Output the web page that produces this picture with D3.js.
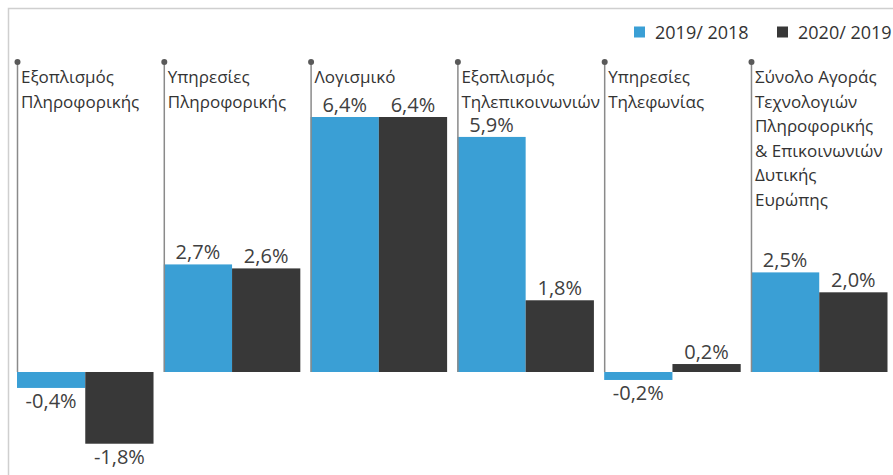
<!DOCTYPE html>
<html>
<head>
<meta charset="utf-8">
<script src="https://cdn.jsdelivr.net/npm/d3@7"></script>
<style>
  html, body { margin: 0; padding: 0; background: #fff; }
  svg { display: block; font-family: "Open Sans", "Noto Sans", sans-serif; }
</style>
</head>
<body>
<svg id="chart" width="893" height="475"></svg>
<script>
const categories = [
  ["Εξοπλισμός", "Πληροφορικής"],
  ["Υπηρεσίες", "Πληροφορικής"],
  ["Λογισμικό"],
  ["Εξοπλισμός", "Τηλεπικοινωνιών"],
  ["Υπηρεσίες", "Τηλεφωνίας"],
  ["Σύνολο Αγοράς", "Τεχνολογιών", "Πληροφορικής", "& Επικοινωνιών", "Δυτικής", "Ευρώπης"]
];
const seriesNames = ["2019/ 2018", "2020/ 2019"];
const values2019 = [-0.4, 2.7, 6.4, 5.9, -0.2, 2.5];
const values2020 = [-1.8, 2.6, 6.4, 1.8, 0.2, 2.0];
const colors = ["#3a9fd5", "#383838"];

const svg = d3.select("#chart");
const W = 893, H = 475;

// frame
svg.append("path")
  .attr("d", `M8.5,${H} L8.5,8.5 L${W},8.5`)
  .attr("fill", "none").attr("stroke", "#cfcfcf").attr("stroke-width", 1.5);

const keys = categories.map((c, i) => "c" + i);
const x0 = d3.scaleBand().domain(keys).range([17, 887.5]).paddingInner(0.07).paddingOuter(0);
const x1 = d3.scaleBand().domain(seriesNames).range([0, x0.bandwidth()]).padding(0);
const y = d3.scaleLinear().domain([0, 6.4]).range([372, 117]);

const data = categories.map((c, i) => ({
  key: keys[i], label: c,
  vals: [values2019[i], values2020[i]]
}));

const g = svg.append("g");
const groups = g.selectAll("g.grp").data(data).join("g")
  .attr("class", "grp")
  .attr("transform", d => `translate(${x0(d.key)},0)`);

groups.each(function(d) {
  const gg = d3.select(this);
  d.vals.forEach((v, j) => {
    const bx = x1(seriesNames[j]);
    const top = y(Math.max(0, v)), bot = y(Math.min(0, v));
    gg.append("rect")
      .attr("x", bx).attr("y", top)
      .attr("width", x1.bandwidth()).attr("height", bot - top)
      .attr("fill", colors[j]);
    const lbl = (v < 0 ? "-" : "") + d3.format(".1f")(Math.abs(v)).replace(".", ",") + "%";
    gg.append("text")
      .attr("x", bx + x1.bandwidth() / 2)
      .attr("y", v >= 0 ? top - 5 : bot + 20)
      .attr("text-anchor", "middle")
      .attr("font-size", 20).attr("fill", "#404040")
      .text(lbl);
  });
  // leader line and dot
  gg.append("line")
    .attr("x1", 0.5).attr("x2", 0.5)
    .attr("y1", 62).attr("y2", y(0))
    .attr("stroke", "#8a8a8a").attr("stroke-width", 1.5);
  gg.append("circle").attr("cx", 0.5).attr("cy", 62).attr("r", 3).attr("fill", "#595959");
  const t = gg.append("text")
    .attr("x", 4).attr("y", 83)
    .attr("font-size", 17).attr("fill", "#333");
  d.label.forEach((line, k) => {
    t.append("tspan").attr("x", 4).attr("y", 83 + k * 24.6).text(line);
  });
});

// legend
const legend = svg.append("g");
const legX = [634, 777];
seriesNames.forEach((s, j) => {
  legend.append("rect").attr("x", legX[j]).attr("y", 26.5).attr("width", 11).attr("height", 11).attr("fill", colors[j]);
  legend.append("text").attr("x", legX[j] + 21).attr("y", 39)
    .attr("font-size", 18).attr("fill", "#333").text(s);
});
</script>
</body>
</html>
